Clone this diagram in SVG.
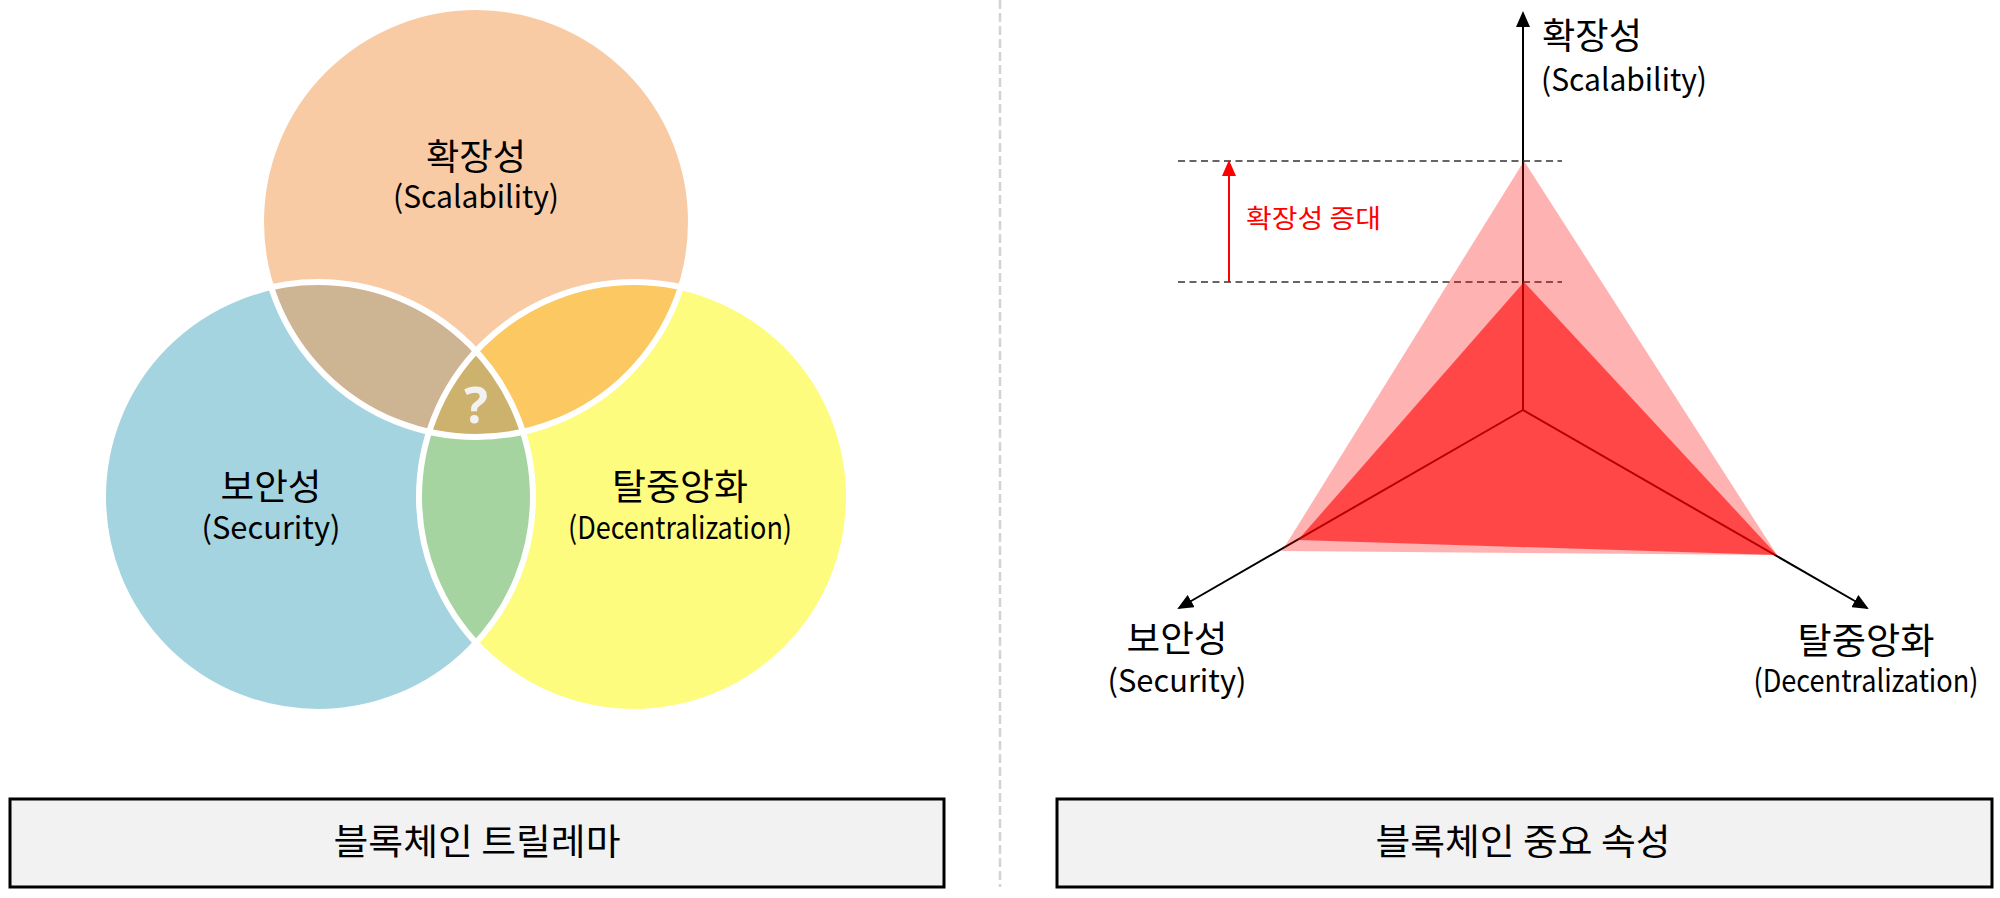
<svg xmlns="http://www.w3.org/2000/svg" width="2000" height="898" viewBox="0 0 2000 898">
<style>
.ko{font-family:"Noto Sans CJK KR","Noto Sans",sans-serif;fill:#000;}
.en{font-family:"Noto Sans CJK KR","Noto Sans",sans-serif;fill:#000;}
.axis{stroke:#000;stroke-width:2;fill:none;}
.guide{stroke:#333;stroke-width:1.5;stroke-dasharray:7 4.5;fill:none;}
.box{fill:#F2F2F2;stroke:#000;stroke-width:3;}
.ring{fill:none;stroke:#FFFFFF;stroke-width:6;}
</style>
<defs>
<clipPath id="cT"><circle cx="476" cy="222" r="215"/></clipPath>
<clipPath id="cL"><circle cx="318" cy="497" r="215"/></clipPath>
<marker id="ah" markerUnits="userSpaceOnUse" markerWidth="16" markerHeight="14" refX="14" refY="7" orient="auto">
<path d="M0,0 L16,7 L0,14 Z" fill="#000"/>
</marker>
<marker id="ahr" markerUnits="userSpaceOnUse" markerWidth="16" markerHeight="14" refX="14" refY="7" orient="auto">
<path d="M0,0 L16,7 L0,14 Z" fill="#FF0000"/>
</marker>
</defs>
<rect x="0" y="0" width="2000" height="898" fill="#FFFFFF"/>

<g id="venn">
<g id="circle-scalability"><circle cx="476" cy="222" r="215" fill="#F9CBA5"/></g>
<g id="circle-security"><circle cx="318" cy="497" r="215" fill="#A5D4E1"/></g>
<g id="circle-decentralization"><circle cx="634" cy="497" r="215" fill="#FEFC7E"/></g>
<g clip-path="url(#cT)"><circle cx="318" cy="497" r="215" fill="#CDB493"/></g>
<g clip-path="url(#cT)"><circle cx="634" cy="497" r="215" fill="#FBC861"/></g>
<g clip-path="url(#cL)"><circle cx="634" cy="497" r="215" fill="#A6D4A1"/></g>
<g clip-path="url(#cT)"><g clip-path="url(#cL)"><circle cx="634" cy="497" r="215" fill="#CDB26E"/></g></g>
<circle class="ring" cx="476" cy="222" r="215"/>
<circle class="ring" cx="318" cy="497" r="215"/>
<circle class="ring" cx="634" cy="497" r="215"/>
<text x="476" y="423" text-anchor="middle" font-family="Noto Sans, sans-serif" font-weight="bold" font-size="50" fill="#F2F2F2">?</text>
<text class="ko" x="476" y="170" text-anchor="middle" font-size="36" textLength="100" lengthAdjust="spacingAndGlyphs">확장성</text>
<text class="en" x="476" y="208" text-anchor="middle" font-size="31" textLength="166" lengthAdjust="spacingAndGlyphs">(Scalability)</text>
<text class="ko" x="271" y="500" text-anchor="middle" font-size="36" textLength="101" lengthAdjust="spacingAndGlyphs">보안성</text>
<text class="en" x="271" y="539" text-anchor="middle" font-size="31" textLength="139" lengthAdjust="spacingAndGlyphs">(Security)</text>
<text class="ko" x="680" y="500" text-anchor="middle" font-size="36" textLength="136" lengthAdjust="spacingAndGlyphs">탈중앙화</text>
<text class="en" x="680" y="539" text-anchor="middle" font-size="31" textLength="224" lengthAdjust="spacingAndGlyphs">(Decentralization)</text>
</g>

<g id="divider"><line x1="1000" y1="0" x2="1000" y2="887" stroke="#D3D3D3" stroke-width="2.5" stroke-dasharray="9 4"/></g>

<g id="connectors">
<line class="axis" x1="1523" y1="410" x2="1523" y2="13" marker-end="url(#ah)"/>
<line class="axis" x1="1523" y1="410" x2="1179" y2="608" marker-end="url(#ah)"/>
<line class="axis" x1="1523" y1="410" x2="1867" y2="608" marker-end="url(#ah)"/>
<line class="guide" x1="1178" y1="161" x2="1562" y2="161"/>
<line class="guide" x1="1178" y1="282" x2="1562" y2="282"/>
<line x1="1229" y1="282" x2="1229" y2="162" stroke="#FF0000" stroke-width="2" marker-end="url(#ahr)"/>
</g>

<g id="radar">
<polygon points="1524,161 1777,555 1282,551" fill="#FF0000" fill-opacity="0.3"/>
<polygon points="1524,282 1777,555 1298,540" fill="#FF0000" fill-opacity="0.6"/>
</g>

<g id="radar-labels">
<text class="ko" x="1542" y="49" font-size="36" textLength="100" lengthAdjust="spacingAndGlyphs">확장성</text>
<text class="en" x="1541" y="91" font-size="31" textLength="166" lengthAdjust="spacingAndGlyphs">(Scalability)</text>
<text class="ko" x="1177" y="652" text-anchor="middle" font-size="36" textLength="101" lengthAdjust="spacingAndGlyphs">보안성</text>
<text class="en" x="1177" y="692" text-anchor="middle" font-size="31" textLength="139" lengthAdjust="spacingAndGlyphs">(Security)</text>
<text class="ko" x="1866" y="654" text-anchor="middle" font-size="36" textLength="137" lengthAdjust="spacingAndGlyphs">탈중앙화</text>
<text class="en" x="1866" y="692" text-anchor="middle" font-size="31" textLength="225" lengthAdjust="spacingAndGlyphs">(Decentralization)</text>
<text x="1246" y="228" font-family="Noto Sans CJK KR, sans-serif" font-size="26" fill="#FF0000" textLength="135" lengthAdjust="spacingAndGlyphs">확장성 증대</text>
</g>

<g id="caption-left">
<rect class="box" x="10" y="799" width="934" height="88"/>
<text class="ko" x="477" y="855" text-anchor="middle" font-size="36" textLength="287" lengthAdjust="spacingAndGlyphs">블록체인 트릴레마</text>
</g>
<g id="caption-right">
<rect class="box" x="1057" y="799" width="935" height="88"/>
<text class="ko" x="1523" y="855" text-anchor="middle" font-size="36" textLength="295" lengthAdjust="spacingAndGlyphs">블록체인 중요 속성</text>
</g>
</svg>
